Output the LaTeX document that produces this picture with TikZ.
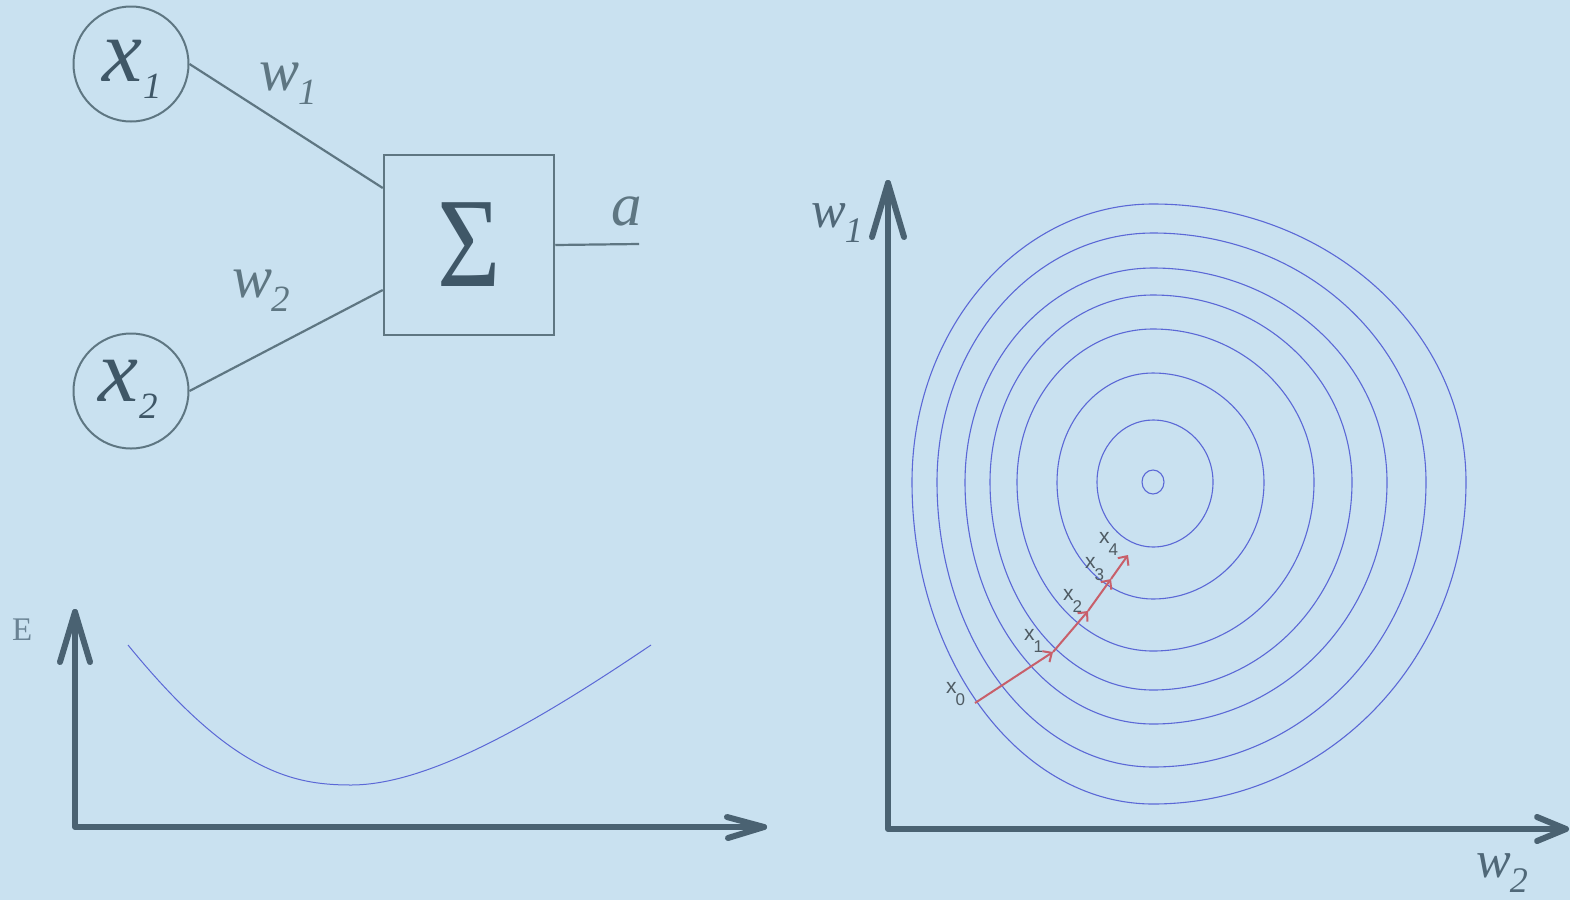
\documentclass[tikz,border=0pt]{standalone}
\usepackage{fontspec}
\setmainfont{Liberation Serif}
\setsansfont{Liberation Sans}
\usetikzlibrary{arrows.meta}
\definecolor{bg}{HTML}{C9E1F0}
\definecolor{axiscol}{HTML}{4A6272}
\definecolor{nline}{HTML}{5E7682}
\definecolor{ntext}{HTML}{3F5767}
\definecolor{ctr}{HTML}{5B68D6}
\definecolor{stepcol}{HTML}{C85F6A}
\definecolor{steptext}{HTML}{4F5B63}
\definecolor{wlab}{HTML}{506878}
\definecolor{elab}{HTML}{6A8394}
\newcommand\eggring[4]{%
\draw[contour] (1153+#2,482) .. controls (1153+#2,482-0.5523*#3) and (1153+0.5523*#2,482-#3) .. (1153,482-#3)
 .. controls (1153-0.5523*#1,482-#3) and (1153-#1,482-0.5523*#3) .. (1153-#1,482)
 .. controls (1153-#1,482+0.5523*#4) and (1153-0.5523*#1,482+#4) .. (1153,482+#4)
 .. controls (1153+0.5523*#2,482+#4) and (1153+#2,482+0.5523*#4) .. cycle;}
\newcommand\bigx[1]{{\fontsize{90}{90}\selectfont\itshape x}\kern1pt\raisebox{-17pt}{\fontsize{37}{37}\selectfont\itshape #1}}
\newcommand\bigw[1]{{\fontsize{60}{60}\selectfont\itshape w}\kern-1pt\raisebox{-14pt}{\fontsize{37}{37}\selectfont\itshape #1}}
\newcommand\axw[1]{{\fontsize{52}{52}\selectfont\itshape w}\kern-1pt\raisebox{-15pt}{\fontsize{36}{36}\selectfont\itshape #1}}
\newcommand\stx[1]{{\sffamily\fontsize{21}{21}\selectfont x\kern-1pt\raisebox{-12pt}{\fontsize{17}{17}\selectfont #1}}}
\begin{document}
\begin{tikzpicture}[x=1pt,y=-1pt,
  neuron/.style={circle,draw=nline,line width=2pt,minimum size=115pt,inner sep=0pt},
  sumbox/.style={draw=nline,line width=2.5pt,minimum width=170pt,minimum height=180pt,inner sep=0pt,text=ntext},
  link/.style={draw=nline,line width=2.2pt},
  txt/.style={anchor=base west,inner sep=0pt},
  axisline/.style={draw=axiscol,line width=6pt,line join=round,line cap=round},
  curve/.style={draw=ctr,line width=1pt},
  contour/.style={draw=ctr,line width=1.1pt},
  gdstep/.style={draw=stepcol,line width=2pt,-{Straight Barb[length=7pt,width=13pt]}}
]
\fill[bg] (0,0) rectangle (1570,900);
\useasboundingbox (0,0) rectangle (1570,900);

% ---- neuron ----
\node[neuron] (x1) at (131,64) {};
\node[neuron] (x2) at (131,391) {};
\node[sumbox] (sum) at (469,245) {\fontsize{128}{128}\selectfont\scalebox{0.85}[1]{Σ}};
\coordinate (out) at (639,244);
\draw[link] (x1.east) -- ([yshift=57pt]sum.west);
\draw[link] (x2.east) -- ([yshift=-45pt]sum.west);
\draw[link] (sum.east) -- (out);
\node[txt,text=ntext] (x1lab) at (102,81) {\bigx{1}};
\node[txt,text=ntext] (x2lab) at (98,401) {\bigx{2}};
\node[txt,text=nline] (w1lab) at (259,90) {\bigw{1}};
\node[txt,text=nline] (w2lab) at (232,297) {\bigw{2}};
\node[txt,text=nline] (alab) at (611,225) {\fontsize{61}{61}\selectfont\itshape a};

% ---- error curve ----
\coordinate (o1) at (75,827);
\coordinate (ey) at (75,612);
\coordinate (ex) at (764,827);
\draw[axisline] (ey) -- (o1) -- (ex);
\draw[axisline] ([shift={(-15,50)}]ey) -- (ey) -- ([shift={(15,50)}]ey);
\draw[axisline] ([shift={(-37,-10)}]ex) -- (ex) -- ([shift={(-36,11)}]ex);
\node[txt,text=elab] (elabel) at (12,640) {\fontsize{33}{33}\selectfont E};
\draw[curve] (128,645) .. controls (230,770) and (290,785) .. (351,785) .. controls (430,785) and (540,720) .. (651,645);

% ---- contour plot ----
\eggring{11}{11}{12}{12}
\eggring{56}{60}{62}{65}
\eggring{96}{111}{109}{117}
\eggring{136}{161}{153}{169}
\eggring{163}{199}{187}{208}
\eggring{188}{234}{214}{242}
\eggring{216}{273}{249}{285}
\eggring{241}{313}{278}{322}

\coordinate (o2) at (888,829);
\coordinate (ty) at (888,183);
\coordinate (tx) at (1566,829);
\draw[axisline] (ty) -- (o2) -- (tx);
\draw[axisline] ([shift={(-16,54)}]ty) -- (ty) -- ([shift={(16,54)}]ty);
\draw[axisline] ([shift={(-29,-12)}]tx) -- (tx) -- ([shift={(-29,12)}]tx);
\node[txt,text=wlab] (w1ax) at (811,227) {\axw{1}};
\node[txt,text=wlab] (w2ax) at (1476,877) {\axw{2}};

\coordinate (p0) at (975,703);
\coordinate (p1) at (1053,652);
\coordinate (p2) at (1088,611);
\coordinate (p3) at (1111,579);
\coordinate (p4) at (1128,555);
\draw[gdstep] (p0) -- (p1);
\draw[gdstep] (p1) -- (p2);
\draw[gdstep] (p2) -- (p3);
\draw[gdstep] (p3) -- (p4);
\node[txt,text=steptext] (l0) at (946,693) {\stx{0}};
\node[txt,text=steptext] (l1) at (1024,640) {\stx{1}};
\node[txt,text=steptext] (l2) at (1063,600) {\stx{2}};
\node[txt,text=steptext] (l3) at (1085,568) {\stx{3}};
\node[txt,text=steptext] (l4) at (1099,543) {\stx{4}};
\end{tikzpicture}
\end{document}
